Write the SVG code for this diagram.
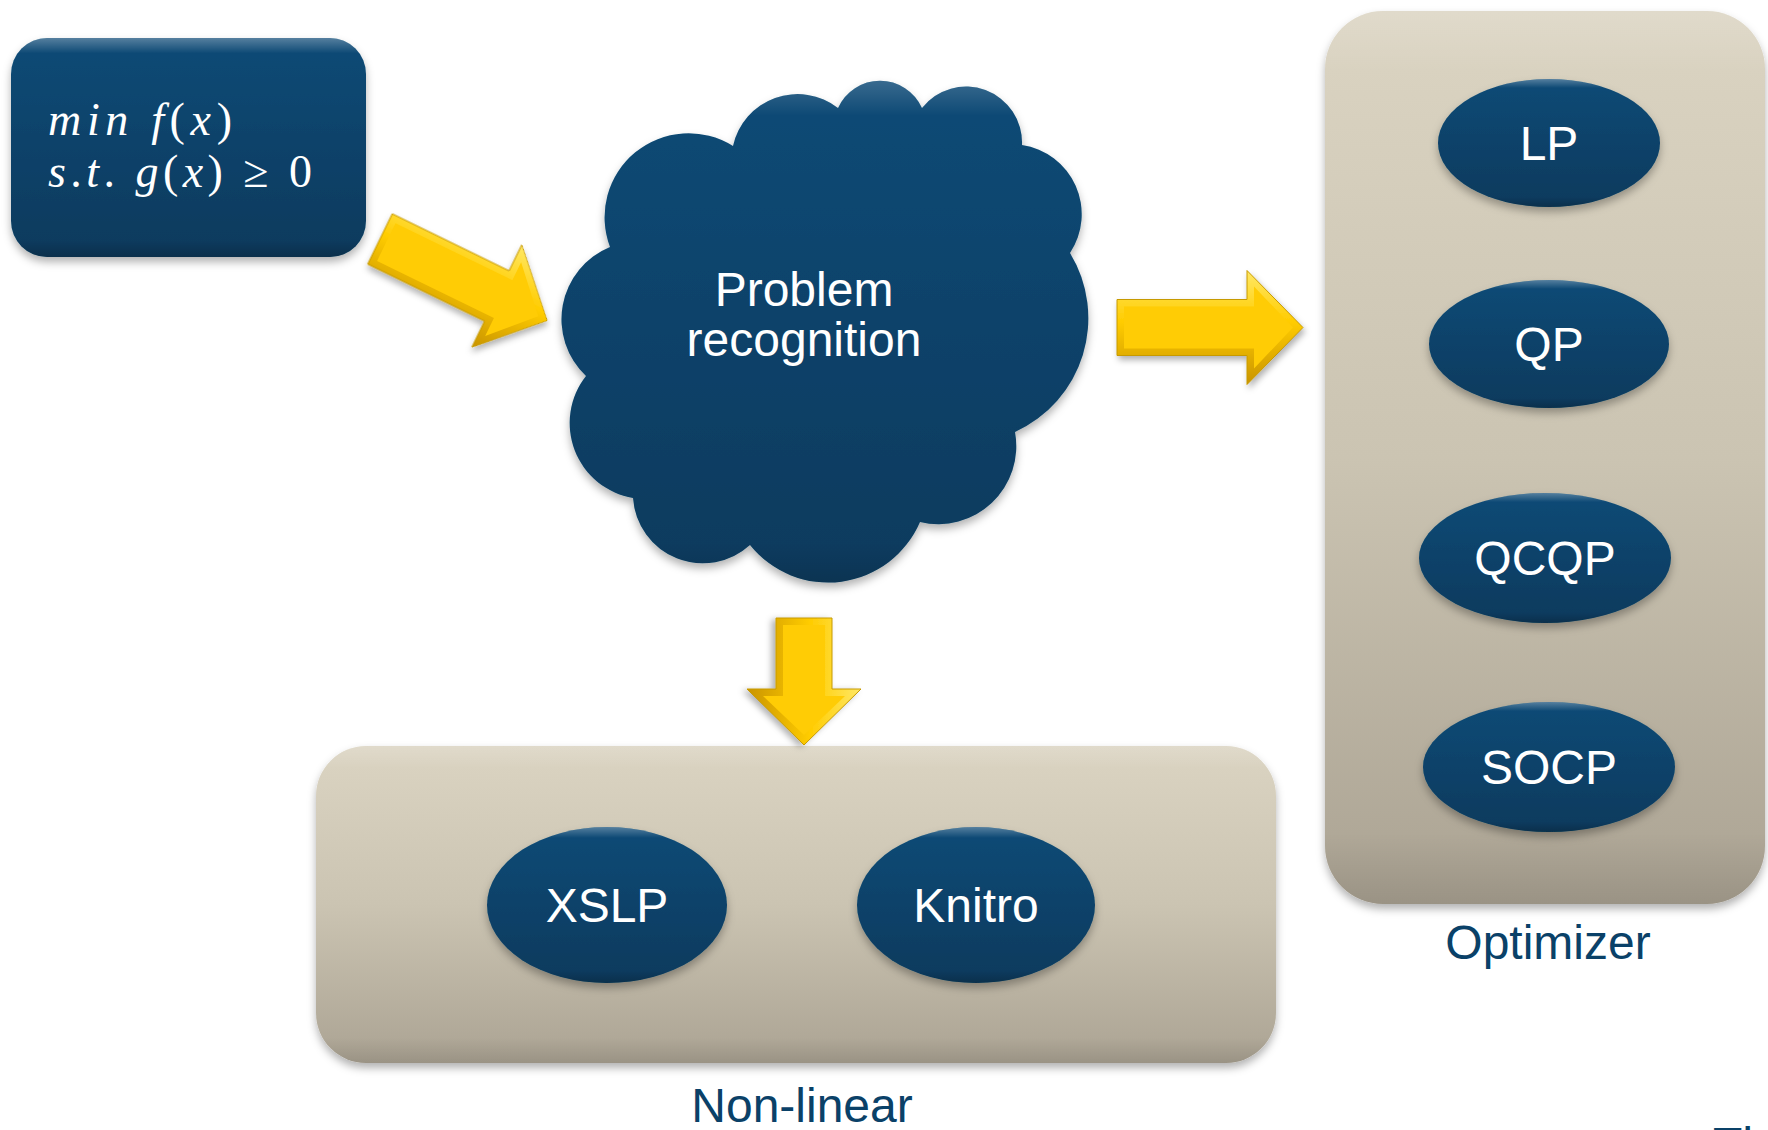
<svg xmlns="http://www.w3.org/2000/svg" width="1768" height="1130" viewBox="0 0 1768 1130">
<defs>
<linearGradient id="navy" x1="0" y1="0" x2="0" y2="1">
<stop offset="0" stop-color="#0a4a76"/>
<stop offset="1" stop-color="#073a5d"/>
</linearGradient>
<linearGradient id="sand" x1="0" y1="0" x2="0" y2="1">
<stop offset="0" stop-color="#dbd4c2"/>
<stop offset="0.5" stop-color="#cbc4b2"/>
<stop offset="1" stop-color="#aba393"/>
</linearGradient>
<linearGradient id="rim" x1="0" y1="0" x2="0" y2="1">
<stop offset="0" stop-color="#ffffff" stop-opacity="0.3"/>
<stop offset="0.07" stop-color="#ffffff" stop-opacity="0"/>
<stop offset="0.92" stop-color="#000000" stop-opacity="0"/>
<stop offset="1" stop-color="#000000" stop-opacity="0.2"/>
</linearGradient>
<linearGradient id="gold" x1="0" y1="0" x2="0" y2="1">
<stop offset="0" stop-color="#ffe866"/>
<stop offset="0.45" stop-color="#ffcc00"/>
<stop offset="1" stop-color="#c99400"/>
</linearGradient>
<filter id="shadow" x="-10%" y="-10%" width="120%" height="125%">
<feDropShadow dx="0" dy="5" stdDeviation="4" flood-color="#000000" flood-opacity="0.3"/>
</filter>
<filter id="ashadow" x="-20%" y="-20%" width="140%" height="140%">
<feDropShadow dx="2" dy="4" stdDeviation="3" flood-color="#000000" flood-opacity="0.3"/>
</filter>
<path id="arrow186" d="M0,-28 H130 V-57 L186,0 L130,57 V28 H0 Z"/>
<path id="arrow186in" d="M7,-21 H137 V-41 L176,0 L137,41 V21 H7 Z"/>
<path id="arrow127" d="M0,-28 H71 V-57 L127,0 L71,57 V28 H0 Z"/>
<path id="arrow127in" d="M7,-21 H78 V-41 L117,0 L78,41 V21 H7 Z"/>
</defs>
<style>
.dark{fill:url(#navy);filter:url(#shadow)}
.rim{fill:url(#rim);stroke:none}
.panel{fill:url(#sand);filter:url(#shadow)}
.lbl{font-family:"Liberation Sans",Arial,sans-serif;font-size:48px;fill:#ffffff;text-anchor:middle}
.cap{font-family:"Liberation Sans",Arial,sans-serif;font-size:48px;fill:#0a4168;text-anchor:middle}
.math{font-family:"Liberation Serif","Times New Roman",serif;font-size:46px;fill:#ffffff}
.it{font-style:italic}
.aout{fill:url(#gold);stroke:#c79a00;stroke-width:1;filter:url(#ashadow)}
.ain{fill:#ffcc05}
</style>
<rect width="1768" height="1130" fill="#ffffff"/>

<g id="node-problem">
<rect class="dark" x="11" y="38" width="355" height="219" rx="36" ry="36"/>
<rect class="rim" x="11" y="38" width="355" height="219" rx="36" ry="36"/>
<text class="math" x="48" y="135" textLength="184" lengthAdjust="spacing"><tspan class="it">min f</tspan>(<tspan class="it">x</tspan>)</text>
<text class="math" x="48" y="187" textLength="264" lengthAdjust="spacing"><tspan class="it">s</tspan>.<tspan class="it">t</tspan>. <tspan class="it">g</tspan>(<tspan class="it">x</tspan>) ≥ 0</text>
</g>

<g id="node-recognition">
<path class="dark" d="M610,247 A84,84 0 0 1 733,146 A66,66 0 0 1 838,108 A46,46 0 0 1 922,108 A56,56 0 0 1 1022,145 A70,70 0 0 1 1070,253 A125,125 0 0 1 1015,432 A78,78 0 0 1 920,522 A100,100 0 0 1 750,545 A70,70 0 0 1 633,498 A76,76 0 0 1 586,376 A78,78 0 0 1 610,247 Z"/>
<path class="rim" opacity="0.6" d="M610,247 A84,84 0 0 1 733,146 A66,66 0 0 1 838,108 A46,46 0 0 1 922,108 A56,56 0 0 1 1022,145 A70,70 0 0 1 1070,253 A125,125 0 0 1 1015,432 A78,78 0 0 1 920,522 A100,100 0 0 1 750,545 A70,70 0 0 1 633,498 A76,76 0 0 1 586,376 A78,78 0 0 1 610,247 Z"/>
<text class="lbl" x="804" y="306" font-size="47">Problem</text>
<text class="lbl" x="804" y="356" font-size="47">recognition</text>
</g>

<g id="node-optimizer">
<rect class="panel" x="1325" y="11" width="440" height="893" rx="58" ry="58"/>
<rect class="rim" x="1325" y="11" width="440" height="893" rx="58" ry="58" opacity="0.5"/>
<text class="cap" x="1548" y="959">Optimizer</text>
</g>
<g id="node-lp">
<ellipse class="dark" cx="1549" cy="143" rx="111" ry="64"/>
<ellipse class="rim" cx="1549" cy="143" rx="111" ry="64"/>
<text class="lbl" x="1549" y="160">LP</text>
</g>
<g id="node-qp">
<ellipse class="dark" cx="1549" cy="344" rx="120" ry="64"/>
<ellipse class="rim" cx="1549" cy="344" rx="120" ry="64"/>
<text class="lbl" x="1549" y="361">QP</text>
</g>
<g id="node-qcqp">
<ellipse class="dark" cx="1545" cy="558" rx="126" ry="65"/>
<ellipse class="rim" cx="1545" cy="558" rx="126" ry="65"/>
<text class="lbl" x="1545" y="575">QCQP</text>
</g>
<g id="node-socp">
<ellipse class="dark" cx="1549" cy="767" rx="126" ry="65"/>
<ellipse class="rim" cx="1549" cy="767" rx="126" ry="65"/>
<text class="lbl" x="1549" y="784">SOCP</text>
</g>

<g id="node-nonlinear">
<rect class="panel" x="316" y="746" width="960" height="317" rx="50" ry="50"/>
<rect class="rim" x="316" y="746" width="960" height="317" rx="50" ry="50" opacity="0.5"/>
<text class="cap" x="802" y="1122">Non-linear</text>
</g>
<g id="node-xslp">
<ellipse class="dark" cx="607" cy="905" rx="120" ry="78"/>
<ellipse class="rim" cx="607" cy="905" rx="120" ry="78"/>
<text class="lbl" x="607" y="922">XSLP</text>
</g>
<g id="node-knitro">
<ellipse class="dark" cx="976" cy="905" rx="119" ry="78"/>
<ellipse class="rim" cx="976" cy="905" rx="119" ry="78"/>
<text class="lbl" x="976" y="922">Knitro</text>
</g>

<g id="connectors">
<g transform="translate(380,239) rotate(26)">
<use href="#arrow186" class="aout"/>
<use href="#arrow186in" class="ain"/>
</g>
<g transform="translate(1117,327.5)">
<use href="#arrow186" class="aout"/>
<use href="#arrow186in" class="ain"/>
</g>
<g transform="translate(804,618) rotate(90)">
<use href="#arrow127" class="aout"/>
<use href="#arrow127in" class="ain"/>
</g>
</g>

<text class="cap" x="1713" y="1161" style="text-anchor:start">Th</text>
</svg>
